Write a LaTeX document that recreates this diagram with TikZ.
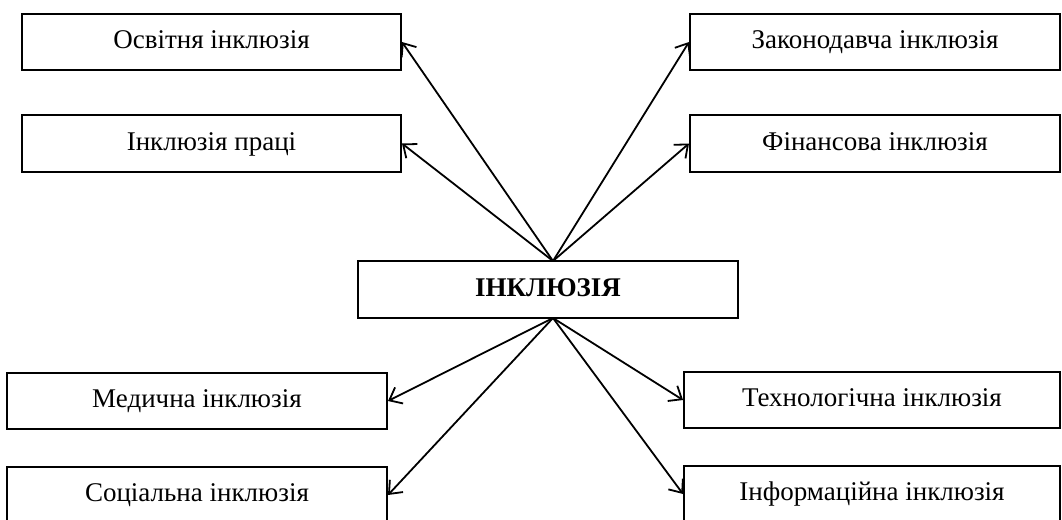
\documentclass[tikz,border=0pt]{standalone}
\usepackage{fontspec}
\setmainfont{Liberation Serif}
\usetikzlibrary{arrows.meta}
\begin{document}
\begin{tikzpicture}[x=1pt,y=-1pt,
  box/.style={draw,line width=2pt,minimum height=56pt,inner sep=0pt,text height=19pt,text depth=6pt,font=\fontsize{27}{32}\selectfont},
  conn/.style={line width=1.8pt,-{Straight Barb[length=11pt,width=18pt,line width=1.8pt]}}]
\clip (0,0) rectangle (1062,519);
\node[box,minimum width=379pt] (osv) at (211.5,42) {Освітня інклюзія};
\node[box,minimum width=379pt,minimum height=57pt] (prac) at (211.5,143.5) {Інклюзія праці};
\node[box,minimum width=370pt] (zak) at (875,42) {Законодавча інклюзія};
\node[box,minimum width=370pt,minimum height=57pt] (fin) at (875,143.5) {Фінансова інклюзія};
\node[box,minimum width=380pt,minimum height=57pt,font=\fontsize{27}{32}\selectfont\bfseries] (inc) at (548,289.5) {ІНКЛЮЗІЯ};
\node[box,minimum width=380pt] (med) at (197,401) {Медична інклюзія};
\node[box,minimum width=380pt] (soc) at (197,495) {Соціальна інклюзія};
\node[box,minimum width=376pt] (tech) at (872,400) {Технологічна інклюзія};
\node[box,minimum width=376pt] (inf) at (872,494) {Інформаційна інклюзія};
\coordinate (top) at (553,261);
\coordinate (bot) at (553,318);
\draw[conn] (top) -- (osv.east);
\draw[conn] (top) -- (prac.east);
\draw[conn] (top) -- (zak.west);
\draw[conn] (top) -- (fin.west);
\draw[conn] (bot) -- (med.east);
\draw[conn] (bot) -- (soc.east);
\draw[conn] (bot) -- (tech.west);
\draw[conn] (bot) -- (inf.west);
\end{tikzpicture}
\end{document}
